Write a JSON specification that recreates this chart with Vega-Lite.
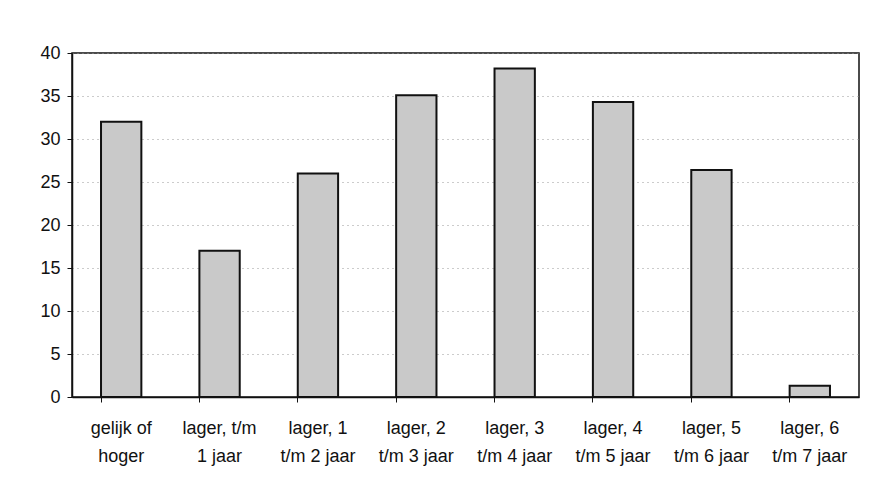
{
  "$schema": "https://vega.github.io/schema/vega-lite/v6.json",
  "autosize": "none",
  "width": 787,
  "height": 344,
  "padding": {"left": 72, "top": 53, "right": 14, "bottom": 94},
  "background": "white",
  "config": {
    "font": "Liberation Sans",
    "view": {"stroke": "#111", "strokeWidth": 1.5}
  },
  "data": {
    "values": [
      {"cat": "gelijk of|hoger", "v": 32},
      {"cat": "lager, t/m|1 jaar", "v": 17},
      {"cat": "lager, 1|t/m 2 jaar", "v": 26},
      {"cat": "lager, 2|t/m 3 jaar", "v": 35.1},
      {"cat": "lager, 3|t/m 4 jaar", "v": 38.2},
      {"cat": "lager, 4|t/m 5 jaar", "v": 34.3},
      {"cat": "lager, 5|t/m 6 jaar", "v": 26.4},
      {"cat": "lager, 6|t/m 7 jaar", "v": 1.3}
    ]
  },
  "mark": {"type": "bar", "fill": "#c9c9c9", "stroke": "#111", "strokeWidth": 2},
  "encoding": {
    "x": {
      "field": "cat", "type": "nominal", "sort": null,
      "scale": {"paddingInner": 0.59, "paddingOuter": 0.295},
      "axis": {
        "title": null, "labelAngle": 0, "labelExpr": "split(datum.label, '|')",
        "labelFontSize": 18, "labelColor": "#111", "labelLineHeight": 28,
        "labelPadding": 17, "bandPosition": 0, "tickSize": 5, "tickColor": "#111",
        "domainColor": "#111", "domainWidth": 1.5, "grid": false, "labelBaseline": "top"
      }
    },
    "y": {
      "field": "v", "type": "quantitative",
      "scale": {"domain": [0, 40]},
      "axis": {
        "title": null, "values": [0, 5, 10, 15, 20, 25, 30, 35, 40],
        "labelFontSize": 18, "labelColor": "#111", "labelPadding": 7,
        "tickSize": 5, "tickColor": "#111", "domainColor": "#111", "domainWidth": 1.5,
        "gridColor": "#999", "gridDash": [1, 4], "gridWidth": 1
      }
    }
  }
}
